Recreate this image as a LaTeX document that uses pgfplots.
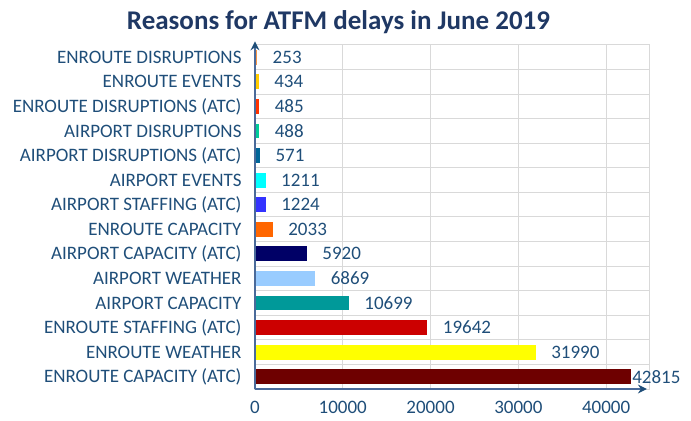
\documentclass[border=0pt]{standalone}
\usepackage{pgfplots}
\pgfplotsset{compat=1.18}
\usepackage{fontspec}
\setmainfont{Carlito}
\usetikzlibrary{arrows.meta}
\definecolor{lblue}{HTML}{1F4E79}
\definecolor{tblue}{HTML}{1F3864}
\definecolor{axc}{HTML}{4A6A9A}
\definecolor{gridc}{HTML}{D9D9D9}
\definecolor{c0}{HTML}{6E0000}
\definecolor{c1}{HTML}{FFFF00}
\definecolor{c2}{HTML}{CC0000}
\definecolor{c3}{HTML}{009999}
\definecolor{c4}{HTML}{99CCFF}
\definecolor{c5}{HTML}{000066}
\definecolor{c6}{HTML}{FF6600}
\definecolor{c7}{HTML}{3333FF}
\definecolor{c8}{HTML}{00FFFF}
\definecolor{c9}{HTML}{006699}
\definecolor{c10}{HTML}{00CC99}
\definecolor{c11}{HTML}{FF3300}
\definecolor{c12}{HTML}{FFCC00}
\definecolor{c13}{HTML}{F79646}
\newcommand{\hb}[3][12bp]{\addplot[xbar, bar shift=0pt, fill=c#3, draw=none,
  nodes near coords, point meta=x,
  nodes near coords style={anchor=west, xshift=#1, text=lblue, font=\fontsize{19bp}{21bp}\selectfont}]
  coordinates {(#2,#3)};}
\begin{document}
\begin{tikzpicture}
\useasboundingbox (-255bp,-32bp) rectangle (436bp,389bp);
\begin{axis}[
  at={(0,0)}, anchor=south west,
  scale only axis, width=395bp, height=344bp,
  xmin=0, xmax=45000, ymin=-0.5, ymax=13.5,
  /pgf/number format/1000 sep={},
  /pgf/number format/assume math mode=true,
  scaled x ticks=false,
  xtick={0,10000,20000,30000,40000},
  ytick={0,...,13},
  yticklabels={ENROUTE CAPACITY (ATC),ENROUTE WEATHER,ENROUTE STAFFING (ATC),AIRPORT CAPACITY,AIRPORT WEATHER,AIRPORT CAPACITY (ATC),ENROUTE CAPACITY,AIRPORT STAFFING (ATC),AIRPORT EVENTS,AIRPORT DISRUPTIONS (ATC),AIRPORT DISRUPTIONS,ENROUTE DISRUPTIONS (ATC),ENROUTE EVENTS,ENROUTE DISRUPTIONS},
  minor ytick={0.5,1.5,...,12.5},
  xmajorgrids=true, yminorgrids=true,
  grid style={gridc, line width=1bp},
  minor grid style={gridc, line width=1bp},
  major tick length=0pt, minor tick length=0pt,
  axis line style={gridc, line width=1bp},
  ticklabel style={text=lblue, font=\fontsize{19bp}{21bp}\selectfont},
  yticklabel style={xshift=-10bp},
  xticklabel style={yshift=-9bp},
  clip=false,
  bar width=0.61,
]
\hb[-2bp]{42815}{0}
\hb{31990}{1}
\hb{19642}{2}
\hb{10699}{3}
\hb{6869}{4}
\hb{5920}{5}
\hb{2033}{6}
\hb{1224}{7}
\hb{1211}{8}
\hb{571}{9}
\hb{488}{10}
\hb{485}{11}
\hb{434}{12}
\hb{253}{13}
\draw[axc, line width=1.2bp, -{Stealth[length=9bp,width=9bp,color=lblue]}] (axis cs:0,-0.5) -- (axis cs:0,13.65);
\draw[axc, line width=1.2bp, -{Stealth[length=9bp,width=9bp,color=lblue]}] (axis cs:0,-0.5) -- (axis cs:44650,-0.5);
\end{axis}
\node[text=tblue, font=\fontsize{27bp}{29bp}\selectfont\bfseries] at (83.5bp,367bp) {Reasons for ATFM delays in June 2019};
\end{tikzpicture}
\end{document}
